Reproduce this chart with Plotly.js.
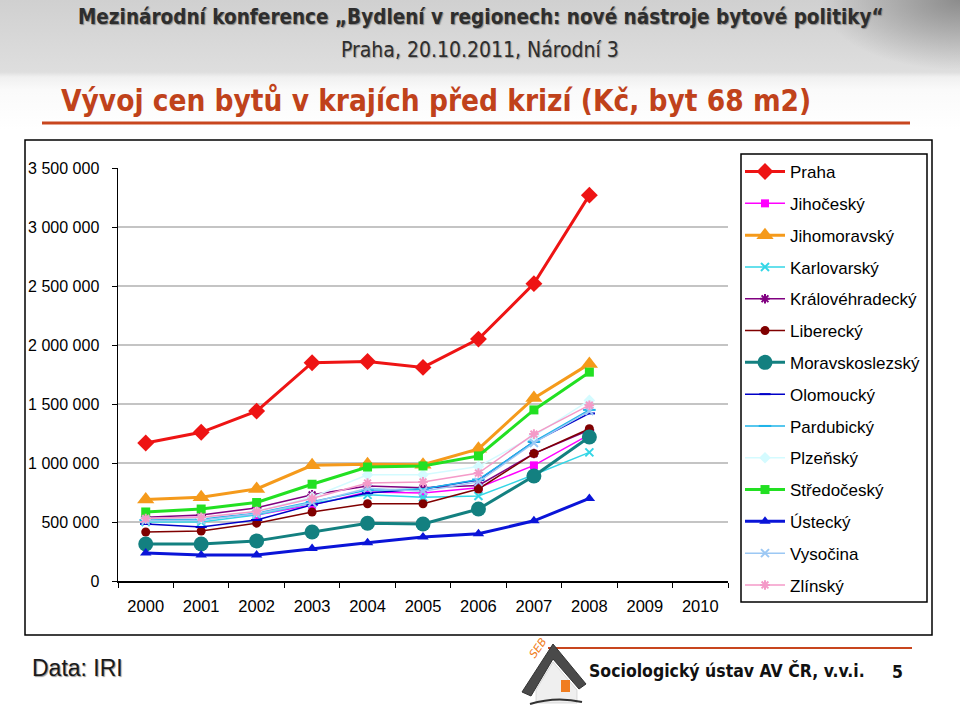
<!DOCTYPE html>
<html><head><meta charset="utf-8">
<script src="https://cdn.plot.ly/plotly-3.0.1.min.js"></script>
<style>
html,body{margin:0;padding:0;width:960px;height:708px;overflow:hidden;}
body{background:
 radial-gradient(ellipse 140px 70px at 960px 0px, #8c8c8c, rgba(140,140,140,0)),
 linear-gradient(180deg,#d0d0d0 0px,#d8d8d8 40px,#dedede 72px,#f0f0f0 77px,#fafafa 90px,#ffffff 130px);}
#chart{position:absolute;left:0;top:0;width:960px;height:708px;}
</style></head>
<body><div id="chart"></div>
<script>
const years = ['2000','2001','2002','2003','2004','2005','2006','2007','2008','2009','2010'];
const regions = ['Praha','Jihočeský','Jihomoravský','Karlovarský','Královéhradecký','Liberecký','Moravskoslezský','Olomoucký','Pardubický','Plzeňský','Středočeský','Ústecký','Vysočina','Zlínský'];
const praha           = [1170000,1260000,1440000,1850000,1860000,1810000,2050000,2520000,3270000];
const jihocesky       = [530000,540000,560000,645000,755000,745000,790000,980000,1240000];
const jihomoravsky    = [690000,710000,780000,980000,990000,985000,1120000,1550000,1840000];
const karlovarsky     = [500000,500000,560000,660000,730000,710000,720000,900000,1090000];
const kralovehradecky = [540000,560000,620000,730000,805000,790000,810000,1080000,1280000];
const liberecky       = [415000,424000,490000,585000,655000,655000,780000,1080000,1290000];
const moravskoslezsky = [314000,314000,340000,415000,490000,483000,610000,890000,1220000];
const olomoucky       = [483000,457000,517000,645000,745000,780000,855000,1180000,1420000];
const pardubicky      = [517000,525000,575000,670000,770000,780000,860000,1180000,1450000];
const plzensky        = [530000,535000,590000,710000,900000,900000,970000,1230000,1530000];
const stredocesky     = [585000,610000,665000,820000,966000,975000,1060000,1450000,1770000];
const ustecky         = [237000,220000,220000,275000,325000,373000,400000,510000,700000];
const vysocina        = [510000,515000,570000,665000,785000,760000,840000,1170000,1440000];
const zlinsky         = [530000,540000,590000,700000,830000,840000,915000,1245000,1490000];
const seriesValues = [praha,jihocesky,jihomoravsky,karlovarsky,kralovehradecky,liberecky,moravskoslezsky,olomoucky,pardubicky,plzensky,stredocesky,ustecky,vysocina,zlinsky];

const styles = [
 {c:'#ee1414', s:'diamond', ms:13, lw:3},
 {c:'#ff00ff', s:'square', ms:8, lw:1.5},
 {c:'#f59a1b', s:'triangle-up', ms:15, lw:3},
 {c:'#33d6e6', s:'x-thin-open', ms:8, lw:1.5},
 {c:'#800080', s:'asterisk-open', ms:8, lw:1.5},
 {c:'#800000', s:'circle', ms:9, lw:1.5},
 {c:'#138080', s:'circle', ms:15, lw:3},
 {c:'#0000c8', s:'line-ew-open', ms:8, lw:1.5},
 {c:'#1fb4e8', s:'line-ew-open', ms:9, lw:1.5},
 {c:'#d4fbff', s:'diamond', ms:9, lw:1.5},
 {c:'#22e022', s:'square', ms:9, lw:3},
 {c:'#0a14d8', s:'triangle-up', ms:10, lw:3},
 {c:'#9cc8f4', s:'x-thin-open', ms:8, lw:1.5},
 {c:'#f49ac8', s:'asterisk-open', ms:8, lw:1.5}
];

const W=960,H=708;
const X=v=>v/W, Y=v=>1-v/H;

const traces = [{x:years, y:years.map(()=>null), mode:'lines', showlegend:false, hoverinfo:'skip', line:{color:'rgba(0,0,0,0)'}}];
seriesValues.forEach((vals,i)=>{
  const st = styles[i];
  traces.push({
    x: years.slice(0, vals.length), y: vals, name: regions[i], legendgroup: 'g'+i,
    type:'scatter', mode:'lines+markers',
    line:{color:st.c, width:st.lw},
    marker:{symbol:st.s, size:st.ms, color:st.c, line:{color:st.c, width:(st.s.indexOf('open')>=0?2:0)}}
  });
});

const shapes = [
 {type:'rect', xref:'paper', yref:'paper', x0:X(25), x1:X(932), y0:Y(140), y1:Y(635), line:{color:'#000', width:1.5}, fillcolor:'#ffffff', layer:'below'},
 {type:'line', xref:'paper', yref:'paper', x0:X(42), x1:X(910), y0:Y(123), y1:Y(123), line:{color:'#c8461e', width:3}},
 {type:'rect', xref:'paper', yref:'paper', x0:X(741), x1:X(927), y0:Y(154), y1:Y(602), line:{color:'#000', width:1.5}, fillcolor:'rgba(255,255,255,0)'},
 {type:'line', xref:'paper', yref:'paper', x0:X(548), x1:X(912), y0:Y(648), y1:Y(648), line:{color:'#c8461e', width:2}},
 {type:'path', xref:'paper', yref:'paper', path:`M ${X(522)},${Y(692)} L ${X(553)},${Y(644)} L ${X(586)},${Y(684)} L ${X(579)},${Y(689)} L ${X(553)},${Y(659)} L ${X(531)},${Y(696)} Z`, fillcolor:'#4a4a4a', line:{color:'#333', width:1}},
 {type:'path', xref:'paper', yref:'paper', path:`M ${X(536)},${Y(690)} L ${X(553)},${Y(662)} L ${X(577)},${Y(690)} L ${X(577)},${Y(703)} L ${X(536)},${Y(703)} Z`, fillcolor:'#efefef', line:{color:'#bbb', width:0.5}},
 {type:'rect', xref:'paper', yref:'paper', x0:X(561), x1:X(570), y0:Y(692), y1:Y(680), fillcolor:'#f07d20', line:{width:0}},
 {type:'path', xref:'paper', yref:'paper', path:`M ${X(530)},${Y(704)} Q ${X(556)},${Y(696)} ${X(582)},${Y(702)}`, line:{color:'#333', width:2}}
];

const hdrFont = 'DejaVu Sans Condensed, Liberation Sans Narrow, sans-serif';
const annotations = [
 {text:'Mezinárodní konference „Bydlení v regionech: nové nástroje bytové politiky“', x:X(481), y:Y(17), xref:'paper', yref:'paper', showarrow:false, xanchor:'center', yanchor:'middle',
  font:{family:hdrFont, size:20.5, color:'#2e2e2e', weight:'bold', shadow:'1px 1px 1px #8a8a8a'}},
 {text:'Praha, 20.10.2011, Národní 3', x:X(480), y:Y(50), xref:'paper', yref:'paper', showarrow:false, xanchor:'center', yanchor:'middle',
  font:{family:hdrFont, size:21, color:'#2e2e2e', shadow:'1px 1px 1px #9a9a9a'}},
 {text:'Vývoj cen bytů v krajích před krizí (Kč, byt 68 m2)', x:X(59), y:Y(100), xref:'paper', yref:'paper', showarrow:false, xanchor:'left', yanchor:'middle',
  font:{family:hdrFont, size:29.5, color:'#c0421b', weight:'bold'}},
 {text:'Data: IRI', x:X(30), y:Y(668), xref:'paper', yref:'paper', showarrow:false, xanchor:'left', yanchor:'middle',
  font:{family:'Liberation Sans Narrow, Liberation Sans, Arial, sans-serif', size:23, color:'#1a1a1a', shadow:'1px 1px 1px #9a9a9a'}},
 {text:'Sociologický ústav AV ČR, v.v.i.', x:X(587), y:Y(670), xref:'paper', yref:'paper', showarrow:false, xanchor:'left', yanchor:'middle',
  font:{family:hdrFont, size:17.5, color:'#111', weight:'bold'}},
 {text:'5', x:X(897), y:Y(672), xref:'paper', yref:'paper', showarrow:false, xanchor:'center', yanchor:'middle',
  font:{family:hdrFont, size:17.5, color:'#111', weight:'bold'}},
 {text:'SEB', x:X(538), y:Y(664), xref:'paper', yref:'paper', showarrow:false, textangle:-55,
  font:{family:'DejaVu Sans', size:11, color:'#f07d20', style:'italic'}}
];

const layout = {
  width:W, height:H, margin:{l:0,r:0,t:0,b:0},
  paper_bgcolor:'rgba(0,0,0,0)', plot_bgcolor:'rgba(0,0,0,0)',
  separators:', ',
  showlegend:true,
  font:{family:'Liberation Sans, Arial, sans-serif', size:16, color:'#000'},
  xaxis:{type:'category', categoryorder:'array', categoryarray:years, range:[-0.5,10.5],
    domain:[X(118), X(728)], showline:true, linecolor:'#000', linewidth:1.5, ticks:'outside', ticklen:5, tickcolor:'#000',
    tickson:'boundaries', showgrid:false, zeroline:false, fixedrange:true, anchor:'y',
    tickfont:{family:'Liberation Sans, Arial, sans-serif', size:16.5, color:'#000'}, ticklabelstandoff:10},
  yaxis:{range:[0,3500000], dtick:500000, tick0:0, tickformat:',.0f',
    domain:[Y(581), Y(168)], showline:true, linecolor:'#000', linewidth:1.5, ticks:'outside', ticklen:5, tickcolor:'#000',
    showgrid:true, gridcolor:'#c4c4c4', gridwidth:1.2, zeroline:false, anchor:'x', fixedrange:true,
    tickfont:{family:'Liberation Sans, Arial, sans-serif', size:16, color:'#000'}, ticklabelstandoff:9},
  legend:{x:X(740), y:Y(154), xanchor:'left', yanchor:'top', bgcolor:'rgba(0,0,0,0)', borderwidth:0,
    font:{family:'Liberation Sans, Arial, sans-serif', size:17, color:'#000'}, tracegroupgap:6.7, itemwidth:40},
  shapes:shapes, annotations:annotations
};

Plotly.newPlot('chart', traces, layout, {displayModeBar:false, staticPlot:true});
</script></body></html>
